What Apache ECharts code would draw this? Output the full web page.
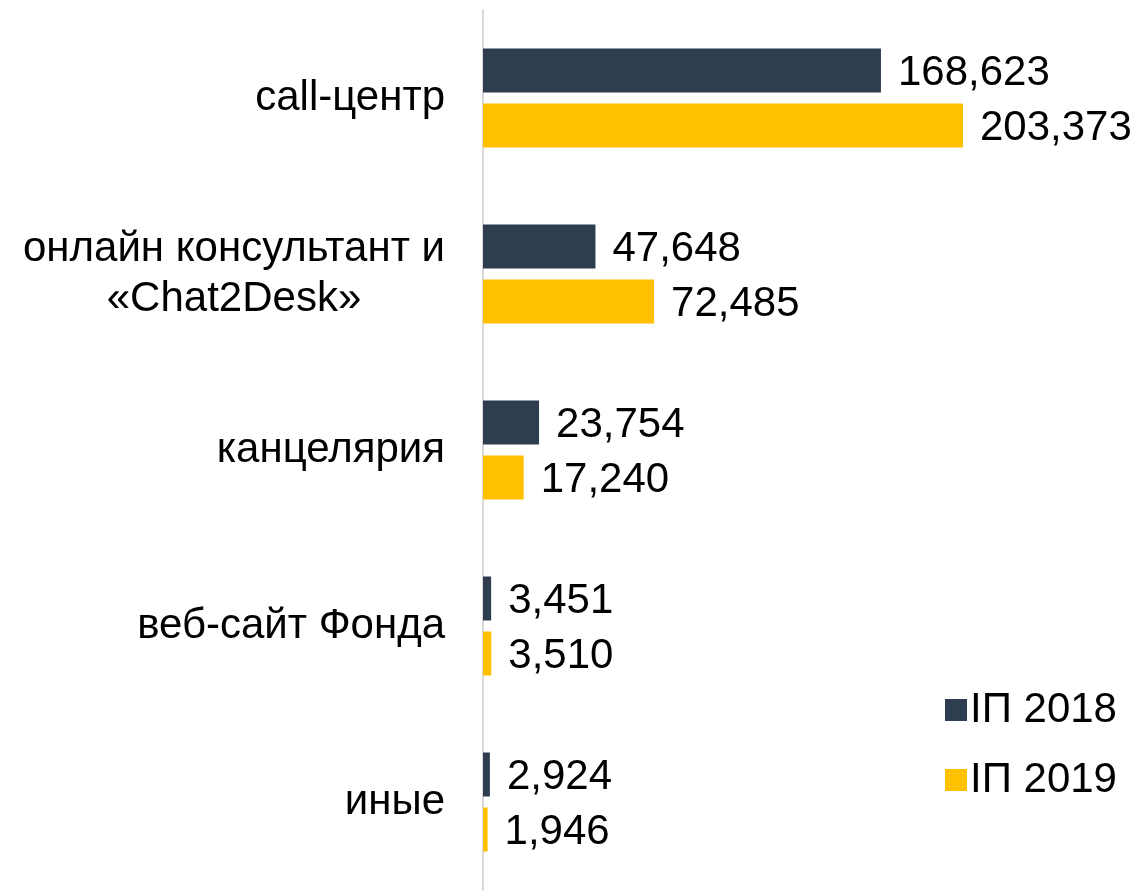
<!DOCTYPE html>
<html>
<head>
<meta charset="utf-8">
<script src="https://cdn.jsdelivr.net/npm/echarts@6/dist/echarts.min.js"></script>
<style>
  html, body { margin: 0; padding: 0; background: #fff; }
  #chart { width: 1139px; height: 893px; }
</style>
</head>
<body>
<div id="chart"></div>
<script>
var categories = ['call-центр', 'онлайн консультант и\n«Chat2Desk»', 'канцелярия', 'веб-сайт Фонда', 'иные'];
var values2018 = [168623, 47648, 23754, 3451, 2924];
var values2019 = [203373, 72485, 17240, 3510, 1946];
var seriesNames = ['ІП 2018', 'ІП 2019'];

var chart = echarts.init(document.getElementById('chart'));

function fmt(v) {
    return String(v).replace(/\B(?=(\d{3})+(?!\d))/g, ',');
}

var FONT = 'Liberation Sans, Arial, sans-serif';

var labelStyle = {
    show: true,
    position: 'right',
    distance: 17,
    offset: [0, 3],
    color: '#000',
    fontFamily: FONT,
    fontSize: 42,
    formatter: function (p) { return fmt(p.value); }
};

var option = {
    animation: false,
    grid: { left: 483, right: 66, top: 10, bottom: 3, containLabel: false },
    legend: {
        orient: 'vertical',
        left: 940,
        top: 682,
        itemWidth: 22,
        itemHeight: 22,
        itemGap: 24,
        icon: 'rect',
        textStyle: { color: '#000', fontSize: 42, fontFamily: FONT, lineHeight: 46, padding: [0, 0, 0, -2] },
        data: seriesNames
    },
    xAxis: {
        type: 'value',
        min: 0,
        max: 250000,
        show: false,
        splitLine: { show: false }
    },
    yAxis: {
        type: 'category',
        inverse: true,
        data: categories,
        axisLine: { show: true, lineStyle: { color: '#D9D9D9', width: 2 } },
        axisTick: { show: false },
        axisLabel: {
            margin: 38,
            align: 'right',
            color: '#000',
            fontSize: 42,
            fontFamily: FONT,
            formatter: function (v) {
                return v.split('\n').map(function (s) { return '{c|' + s + '}'; }).join('\n');
            },
            rich: {
                c: { align: 'center', fontSize: 42, lineHeight: 50, color: '#000', fontFamily: FONT }
            }
        }
    },
    series: [
        {
            name: seriesNames[0],
            type: 'bar',
            data: values2018,
            barWidth: 44,
            barGap: '25%',
            itemStyle: { color: '#2E3D50' },
            label: labelStyle
        },
        {
            name: seriesNames[1],
            type: 'bar',
            data: values2019,
            barWidth: 44,
            barGap: '25%',
            itemStyle: { color: '#FFC000' },
            label: labelStyle
        }
    ]
};

chart.setOption(option, true);
</script>
</body>
</html>
